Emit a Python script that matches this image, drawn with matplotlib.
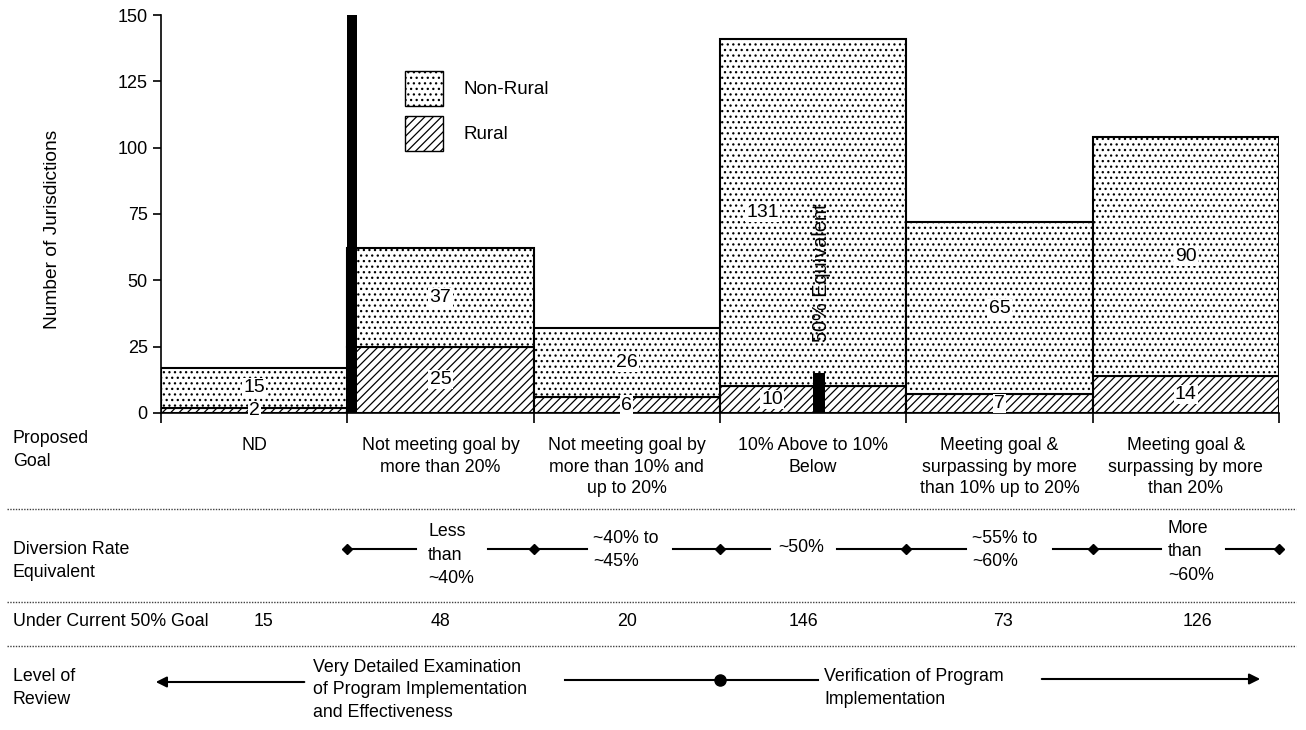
import matplotlib.pyplot as plt
import numpy as np
from matplotlib.lines import Line2D
from matplotlib.patches import Patch
from matplotlib.transforms import blended_transform_factory

plt.rcParams['font.family'] = ['Liberation Sans', 'DejaVu Sans']
plt.rcParams['hatch.linewidth'] = 0.9

goals = ['ND',
         'Not meeting goal by\nmore than 20%',
         'Not meeting goal by\nmore than 10% and\nup to 20%',
         '10% Above to 10%\nBelow',
         'Meeting goal &\nsurpassing by more\nthan 10% up to 20%',
         'Meeting goal &\nsurpassing by more\nthan 20%']
rural = [2, 25, 6, 10, 7, 14]
non_rural = [15, 37, 26, 131, 65, 90]
current_goal = [15, 48, 20, 146, 73, 126]
diversion = ['Less\nthan\n~40%', '~40% to\n~45%', '~50%', '~55% to\n~60%', 'More\nthan\n~60%']
review = ['Very Detailed Examination\nof Program Implementation\nand Effectiveness',
          'Verification of Program\nImplementation']
row_titles = ['Proposed\nGoal', 'Diversion Rate\nEquivalent', 'Under Current 50% Goal', 'Level of\nReview']
nd_divider = 150        # height of the divider after ND
equivalent_mark = 15    # height of the 50% equivalent mark

W, H = 1306, 730
fig = plt.figure(figsize=(W / 100, H / 100), dpi=100)
ax = fig.add_axes([161 / W, 1 - 413 / H, 1118 / W, 398 / H])

x = np.arange(len(goals))
bottoms = np.array(rural)
ax.bar(x, rural, width=1, color='white', edgecolor='black', hatch='////', linewidth=1.5)
ax.bar(x, non_rural, width=1, bottom=bottoms, color='white', edgecolor='black', hatch='...', linewidth=1.5)

# solid dividers
ax.bar(0.5, nd_divider, width=0.054, align='edge', color='black', zorder=3)
ax.bar(3.0, equivalent_mark, width=0.064, align='edge', color='black', zorder=3)
ax.text(3.047, 53, '50% Equivalent', rotation=90, ha='center', va='center', fontsize=14.3)

# value labels
box = dict(facecolor='white', edgecolor='none', pad=0.8)
top_shift = [0, 0, 0, -0.27, 0, 0]
low_shift = [0, 0, 0, -0.22, 0, 0]
for i in x:
    ax.text(i + top_shift[i], rural[i] + non_rural[i] / 2, str(non_rural[i]),
            ha='center', va='center', fontsize=14, bbox=box, zorder=4)
    ax.text(i + low_shift[i], rural[i] / 2, str(rural[i]),
            ha='center', va='center', fontsize=14, bbox=box, zorder=4)

handles = [Patch(facecolor='white', edgecolor='black', hatch='...', label='Non-Rural'),
           Patch(facecolor='white', edgecolor='black', hatch='////', label='Rural')]
ax.legend(handles=handles, loc='upper left', bbox_to_anchor=((405 - 161) / 1118, (413 - 71) / 398),
          frameon=False, fontsize=13.5, handlelength=2.05, handleheight=2.5,
          handletextpad=1.05, labelspacing=0.52, borderpad=0, borderaxespad=0)

ax.set_xlim(-0.5, 5.5)
ax.set_ylim(0, 150)
ax.set_yticks(range(0, 151, 25))
ax.tick_params(axis='y', labelsize=13, length=6, width=1.2)
ax.set_xticks(x, goals, fontsize=12.8, linespacing=1.38)
ax.set_xticks(np.arange(-0.5, 6), minor=True)
ax.tick_params(axis='x', which='major', length=0, pad=17)
ax.tick_params(axis='x', which='minor', length=7, width=1.2)
ax.spines[['top', 'right']].set_visible(False)
ax.spines[['left', 'bottom']].set_linewidth(1.2)
ax.set_ylabel('Number of Jurisdictions', fontsize=13.8)
ax.yaxis.set_label_coords(-0.089, 0.462)

# table rows under the chart
tr = blended_transform_factory(ax.transData, fig.transFigure)


def fy(py):
    return 1 - py / H


title_y = [450, 561, 622, 688]
for title, py in zip(row_titles, title_y):
    fig.text(13 / W, fy(py), title, ha='left', va='center', fontsize=12.8, linespacing=1.42)

for py in [509, 602, 646]:
    fig.add_artist(Line2D([7 / W, 1296 / W], [fy(py), fy(py)], color='0.25',
                          linewidth=1.0, linestyle=(0, (1, 1))))

# diversion rate row
div_x = [0.933, 1.818, 2.811, 3.852, 4.904]
div_y = [555, 550, 548, 550, 552]
for label, lx, ly in zip(diversion, div_x, div_y):
    ax.text(lx, fy(ly), label, transform=tr, ha='left', va='center', fontsize=12.8, linespacing=1.5)
segments = [(0.5, 0.87), (1.255, 1.786), (2.248, 2.768), (3.128, 3.82), (4.287, 4.867), (5.216, 5.5)]
for a, b in segments:
    ax.plot([a, b], [fy(549), fy(549)], transform=tr, color='black', linewidth=1.5, clip_on=False)
edges = x + 0.5
ax.plot(edges, [fy(549)] * len(edges), 'D', transform=tr, color='black', markersize=5, clip_on=False)

# under current goal row
num_shift = [0.05, 0, 0, -0.05, 0.02, 0.06]
for i in x:
    ax.text(i + num_shift[i], fy(622), str(current_goal[i]), transform=tr,
            ha='center', va='center', fontsize=12.8)

# level of review row
ax.annotate('', xy=(-0.543, fy(682)), xytext=(0.284, fy(682)), xycoords=tr, textcoords=tr,
            arrowprops=dict(arrowstyle='-|>', color='black', lw=1.5, mutation_scale=16))
ax.annotate('', xy=(5.414, fy(679)), xytext=(4.212, fy(679)), xycoords=tr, textcoords=tr,
            arrowprops=dict(arrowstyle='-|>', color='black', lw=1.5, mutation_scale=16))
ax.plot([1.668, 3.026], [fy(680), fy(680)], transform=tr, color='black', linewidth=1.5, clip_on=False)
ax.plot([2.5], [fy(680)], 'o', transform=tr, color='black', markersize=8, clip_on=False)
ax.text(0.316, fy(690), review[0], transform=tr, ha='left', va='center', fontsize=12.8, linespacing=1.45)
ax.text(3.058, fy(688), review[1], transform=tr, ha='left', va='center', fontsize=12.8, linespacing=1.4)

fig.savefig('out.png', dpi=100)
